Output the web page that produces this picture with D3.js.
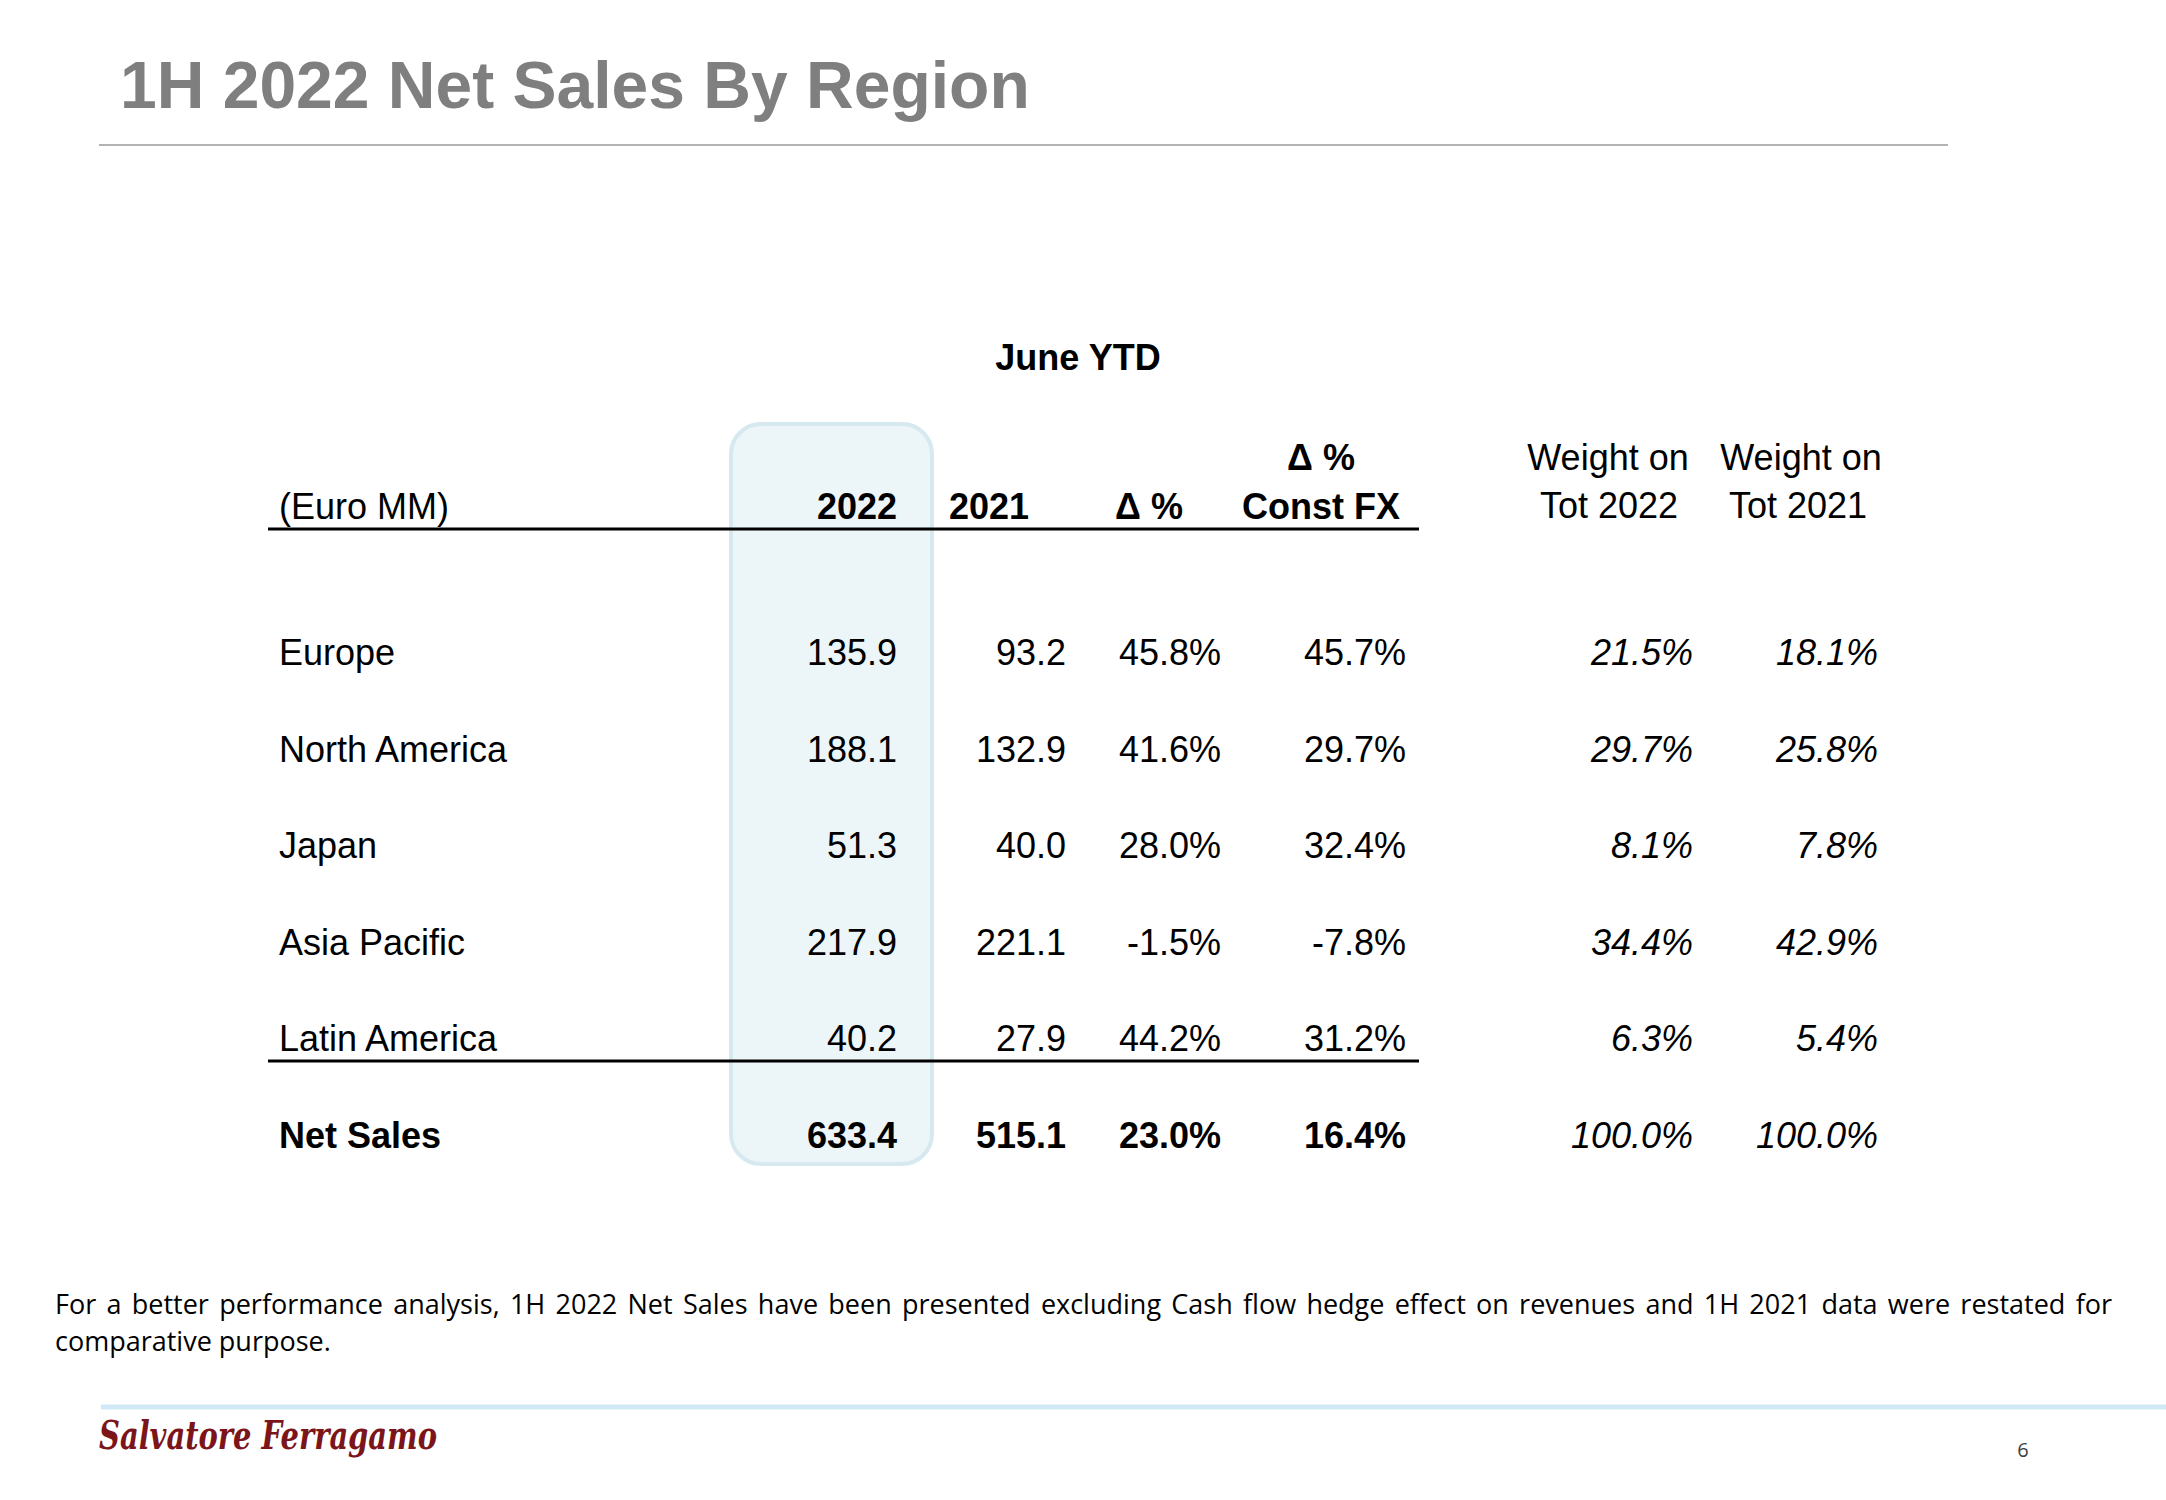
<!DOCTYPE html>
<html>
<head>
<meta charset="utf-8">
<script src="https://cdn.jsdelivr.net/npm/d3@7"></script>
<style>
  html, body { margin: 0; padding: 0; background: #ffffff; }
  svg { display: block; }
</style>
</head>
<body>
<svg id="chart" width="2166" height="1500"></svg>
<script>
// ---------- DATA ----------
const titleText = "1H 2022 Net Sales By Region";
const periodLabel = "June YTD";
const unitLabel = "(Euro MM)";
const regions = ["Europe", "North America", "Japan", "Asia Pacific", "Latin America"];
const totalLabel = "Net Sales";
const sales2022 = [135.9, 188.1, 51.3, 217.9, 40.2];
const sales2021 = [93.2, 132.9, 40.0, 221.1, 27.9];
const deltaPct = [45.8, 41.6, 28.0, -1.5, 44.2];
const deltaConstFx = [45.7, 29.7, 32.4, -7.8, 31.2];
const weight2022 = [21.5, 29.7, 8.1, 34.4, 6.3];
const weight2021 = [18.1, 25.8, 7.8, 42.9, 5.4];
const totals = { s2022: 633.4, s2021: 515.1, dPct: 23.0, dFx: 16.4, w2022: 100.0, w2021: 100.0 };
const footnoteLines = [
  "For a better performance analysis, 1H 2022 Net Sales have been presented excluding Cash flow hedge effect on revenues and 1H 2021 data were restated for",
  "comparative purpose."
];
const pageNumber = "6";
const brandName = "Salvatore Ferragamo";

// ---------- SETUP ----------
const svg = d3.select("#chart");
const FONT = "'Liberation Sans', Arial, Helvetica, sans-serif";

// Title
svg.append("text")
  .attr("x", 120).attr("y", 108)
  .attr("font-family", FONT).attr("font-weight", "bold").attr("font-size", 66)
  .attr("fill", "#7f7f7f")
  .text(titleText);
svg.append("line")
  .attr("x1", 99).attr("x2", 1948).attr("y1", 145).attr("y2", 145)
  .attr("stroke", "#b3b3b3").attr("stroke-width", 2);

// Scales
const rowKeys = regions.concat([totalLabel]);
const y = d3.scalePoint().domain(rowKeys).range([665, 1148]);
const colKeys = ["s2022", "s2021", "dPct", "dFx", "w2022", "w2021"];
const colRight = d3.scaleOrdinal().domain(colKeys).range([897, 1066, 1221, 1406, 1693, 1878]);

// Highlight box for 2022 column
svg.append("rect")
  .attr("x", 731).attr("y", 424).attr("width", 201).attr("height", 740)
  .attr("rx", 30).attr("ry", 30)
  .attr("fill", "#ecf5f8").attr("stroke", "#d6e9ee").attr("stroke-width", 4);

// Header
const g = svg.append("g").attr("font-family", FONT).attr("font-size", 36).attr("fill", "#000");
g.append("text").attr("x", 1078).attr("y", 370).attr("text-anchor", "middle")
  .attr("font-weight", "bold").text(periodLabel);
g.append("text").attr("x", 279).attr("y", 519).text(unitLabel);
g.append("text").attr("x", 897).attr("y", 519).attr("text-anchor", "end").attr("font-weight", "bold").text("2022");
g.append("text").attr("x", 1029).attr("y", 519).attr("text-anchor", "end").attr("font-weight", "bold").text("2021");
g.append("text").attr("x", 1183).attr("y", 519).attr("text-anchor", "end").attr("font-weight", "bold").text("Δ %");
g.append("text").attr("x", 1321).attr("y", 470).attr("text-anchor", "middle").attr("font-weight", "bold").text("Δ %");
g.append("text").attr("x", 1321).attr("y", 519).attr("text-anchor", "middle").attr("font-weight", "bold").text("Const FX");
g.append("text").attr("x", 1608).attr("y", 470).attr("text-anchor", "middle").text("Weight on");
g.append("text").attr("x", 1609).attr("y", 518).attr("text-anchor", "middle").text("Tot 2022");
g.append("text").attr("x", 1801).attr("y", 470).attr("text-anchor", "middle").text("Weight on");
g.append("text").attr("x", 1798).attr("y", 518).attr("text-anchor", "middle").text("Tot 2021");

// Rules
svg.append("line").attr("x1", 268).attr("x2", 1419).attr("y1", 529).attr("y2", 529)
  .attr("stroke", "#000").attr("stroke-width", 3);
svg.append("line").attr("x1", 268).attr("x2", 1419).attr("y1", 1061).attr("y2", 1061)
  .attr("stroke", "#000").attr("stroke-width", 3);

// Rows
const fmt1 = v => v.toFixed(1);
const pct = v => fmt1(v) + "%";
const rows = regions.map((r, i) => ({
  label: r, bold: false,
  s2022: fmt1(sales2022[i]), s2021: fmt1(sales2021[i]),
  dPct: pct(deltaPct[i]), dFx: pct(deltaConstFx[i]),
  w2022: pct(weight2022[i]), w2021: pct(weight2021[i])
}));
rows.push({
  label: totalLabel, bold: true,
  s2022: fmt1(totals.s2022), s2021: fmt1(totals.s2021),
  dPct: pct(totals.dPct), dFx: pct(totals.dFx),
  w2022: pct(totals.w2022), w2021: pct(totals.w2021)
});

const rowG = g.selectAll("g.row").data(rows).join("g").attr("class", "row")
  .attr("transform", d => `translate(0,${y(d.label)})`)
  .attr("font-weight", d => d.bold ? "bold" : "normal");
rowG.append("text").attr("x", 279).attr("y", 0).text(d => d.label);
colKeys.forEach(k => {
  const italic = k === "w2022" || k === "w2021";
  rowG.append("text")
    .attr("x", colRight(k)).attr("y", 0)
    .attr("text-anchor", "end")
    .attr("font-style", italic ? "italic" : "normal")
    .attr("font-weight", d => (d.bold && !italic) ? "bold" : "normal")
    .text(d => d[k]);
});

// Footnote (first line justified via word spacing)
const FN = "'Open Sans', 'Noto Sans', sans-serif";
const fn1 = svg.append("text").attr("x", 55).attr("y", 1314)
  .attr("font-family", FN).attr("font-size", 27).attr("fill", "#000")
  .text(footnoteLines[0]);
const natural = fn1.node().getComputedTextLength();
const spaces = (footnoteLines[0].match(/ /g) || []).length;
const extra = (2057 - natural) / spaces;
if (extra > 0) fn1.attr("word-spacing", extra);
else fn1.attr("textLength", 2057).attr("lengthAdjust", "spacingAndGlyphs");
svg.append("text").attr("x", 55).attr("y", 1351)
  .attr("font-family", FN).attr("font-size", 27).attr("fill", "#000")
  .text(footnoteLines[1]);

// Footer band
svg.append("line").attr("x1", 101).attr("x2", 2166).attr("y1", 1407).attr("y2", 1407)
  .attr("stroke", "#cfe9f7").attr("stroke-width", 5);

// Brand logo (as text)
svg.append("text").attr("x", 99).attr("y", 1449)
  .attr("font-family", "'DejaVu Serif', serif").attr("font-style", "italic").attr("font-weight", "bold")
  .attr("font-size", 40).attr("fill", "#7b1519")
  .attr("textLength", 338).attr("lengthAdjust", "spacingAndGlyphs")
  .text(brandName);

// Page number
svg.append("text").attr("x", 2023).attr("y", 1457).attr("text-anchor", "middle")
  .attr("font-family", FN).attr("font-size", 20).attr("fill", "#404040")
  .text(pageNumber);
</script>
</body>
</html>
